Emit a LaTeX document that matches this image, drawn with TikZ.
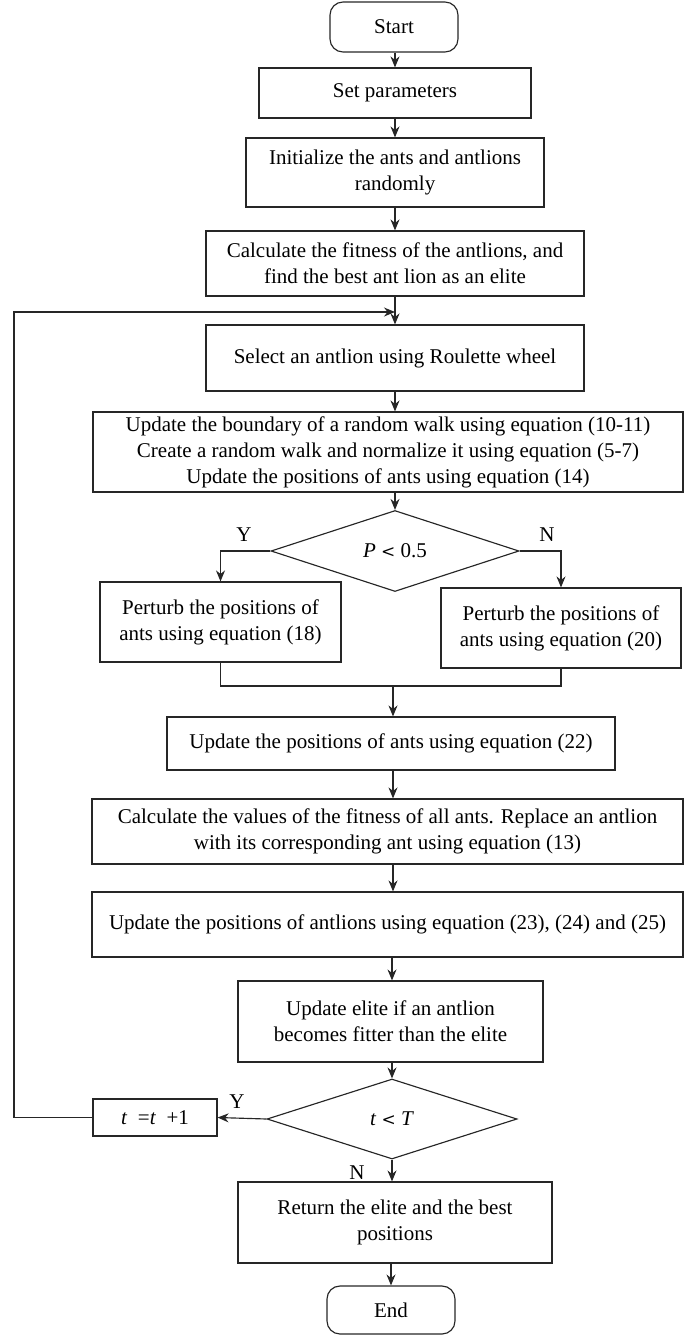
\documentclass[tikz,border=0pt]{standalone}
\usepackage{fontspec}
\setmainfont{Liberation Serif}
\usetikzlibrary{shapes.geometric,arrows.meta,calc}

\tikzset{
  flow/.style={line width=1.15pt, draw=black!85},
  arr/.style={flow, -{Stealth[length=11pt,width=9pt]}},
  box/.style={flow, rectangle, inner sep=0pt, align=center,
    font=\fontsize{21}{26}\selectfont},
  term/.style={box, rounded corners=13pt},
  decide/.style={flow, diamond, aspect=3.1, inner sep=0pt,
    font=\fontsize{21}{26}\selectfont},
  lbl/.style={font=\fontsize{21}{26}\selectfont, inner sep=0pt},
}

\begin{document}
\begin{tikzpicture}[x=1pt,y=-1pt]
\useasboundingbox (0,0) rectangle (685,1335);

% terminals and process boxes (centre, size)
\node[term, minimum width=128pt, minimum height=50pt] (start) at (394,27) {Start};
\node[box, minimum width=272pt, minimum height=50pt] (setp) at (395,93) {Set parameters};
\node[box, minimum width=298pt, minimum height=69pt] (init) at (395,172.5)
  {Initialize the ants and antlions\\randomly};
\node[box, minimum width=378pt, minimum height=65pt] (calc) at (395,263.5)
  {Calculate the fitness of the antlions, and\\find the best ant lion as an elite};
\node[box, minimum width=378pt, minimum height=66pt] (sel) at (395,358)
  {Select an antlion using Roulette wheel};
\node[box, minimum width=590pt, minimum height=80pt] (upd) at (388,452)
  {Update the boundary of a random walk using equation (10-11)\\
   Create a random walk and normalize it using equation (5-7)\\
   Update the positions of ants using equation (14)};

% first decision
\node[decide, minimum width=248pt, minimum height=81pt] (pdec) at (395,551)
  {\textit{P} {\fontspec{DejaVu Serif}\fontsize{17}{20}\selectfont<} 0.5};
\node[box, minimum width=241pt, minimum height=80pt] (pl) at (220.5,622)
  {Perturb the positions of\\ants using equation (18)};
\node[box, minimum width=240pt, minimum height=80pt] (pr) at (561,628)
  {Perturb the positions of\\ants using equation (20)};
\coordinate (mid) at (393,686);

\node[box, minimum width=448pt, minimum height=53pt] (b22) at (391,743.5)
  {Update the positions of ants using equation (22)};
\node[box, minimum width=591pt, minimum height=65pt] (cval) at (387.5,831.5)
  {Calculate the values of the fitness of all ants. Replace an antlion\\
   with its corresponding ant using equation (13)};
\node[box, minimum width=591pt, minimum height=65pt] (alion) at (387.5,924.5)
  {Update the positions of antlions using equation (23), (24) and (25)};
\node[box, minimum width=305pt, minimum height=81pt] (elite) at (390.5,1021.5)
  {Update elite if an antlion\\becomes fitter than the elite};

% second decision
\node[decide, minimum width=250pt, minimum height=80pt] (tdec) at (392,1119)
  {\textit{t} {\fontspec{DejaVu Serif}\fontsize{17}{20}\selectfont<} \textit{T}};
\node[box, minimum width=124pt, minimum height=37pt] (tinc) at (155,1117.5)
  {\textit{t}\enspace=\textit{t}\enspace+1};
\node[box, minimum width=314pt, minimum height=81pt] (ret) at (395,1222.5)
  {Return the elite and the best\\positions};
\node[term, minimum width=128pt, minimum height=48pt] (stop) at (391,1310)
  {End};

\coordinate (join) at (395,312);
\coordinate (lc) at (14,312);

% connectors
\draw[arr] (start.south -| setp) -- (setp);
\draw[arr] (setp) -- (init);
\draw[arr] (init) -- (calc);
\draw[arr] (calc) -- (sel);
\draw[arr] (sel) -- (upd.north -| sel);
\draw[arr] (upd.south -| pdec) -- (pdec);
\draw[arr] (pdec.west) -| (pl.north);
\draw[arr] (pdec.east) -| (pr.north);
\draw[flow] (pl.south) |- (mid) -| (pr.south);
\draw[arr] (mid) -- (mid |- b22.north);
\draw[arr] (b22.south -| mid) -- (cval.north -| mid);
\draw[arr] (cval.south -| mid) -- (alion.north -| mid);
\draw[arr] (alion.south -| tdec) -- (elite.north -| tdec);
\draw[arr] (elite.south -| tdec) -- (tdec);
\draw[arr] (tdec.west) -- (tinc.east);
\draw[arr] (tinc.west) -| (lc) -- (join);
\draw[arr] (tdec) -- (tdec |- ret.north);
\draw[arr] (ret.south -| stop) -- (stop);

% branch labels
\node[lbl] (ly1) at (244,535) {Y};
\node[lbl] (ln1) at (547,535) {N};
\node[lbl] (ly2) at (237,1102) {Y};
\node[lbl] (ln2) at (357,1173) {N};
\end{tikzpicture}
\end{document}
